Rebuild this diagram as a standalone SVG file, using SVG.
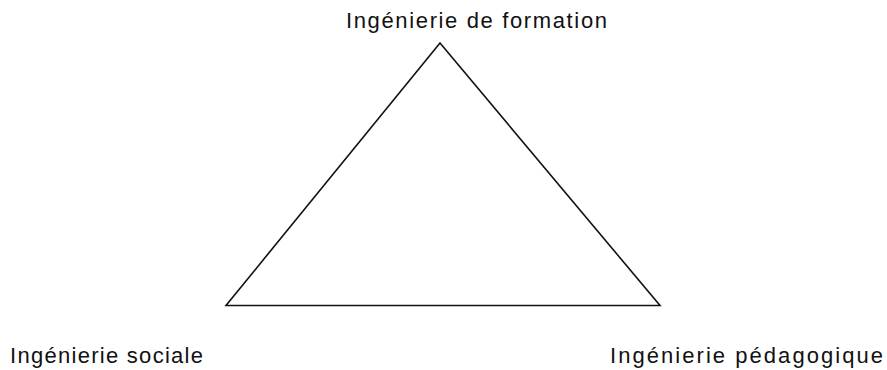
<svg xmlns="http://www.w3.org/2000/svg" width="887" height="370" viewBox="0 0 887 370">
<style>
.lbl{font-family:"Liberation Sans",Arial,sans-serif;font-size:22px;fill:#111}
.edge{fill:none;stroke:#111;stroke-width:1.6;stroke-linejoin:miter}
</style>
<rect width="887" height="370" fill="#fff"/>
<g id="connectors">
<path class="edge" d="M440,43 L660,305.5 L226,305.5 Z"/>
</g>
<g id="node-formation"><text class="lbl" x="346" y="28" textLength="261" lengthAdjust="spacing">Ingénierie de formation</text></g>
<g id="node-sociale"><text class="lbl" x="10" y="362.5" textLength="193" lengthAdjust="spacing">Ingénierie sociale</text></g>
<g id="node-pedagogique"><text class="lbl" x="610" y="362.5" textLength="273" lengthAdjust="spacing">Ingénierie pédagogique</text></g>
</svg>
